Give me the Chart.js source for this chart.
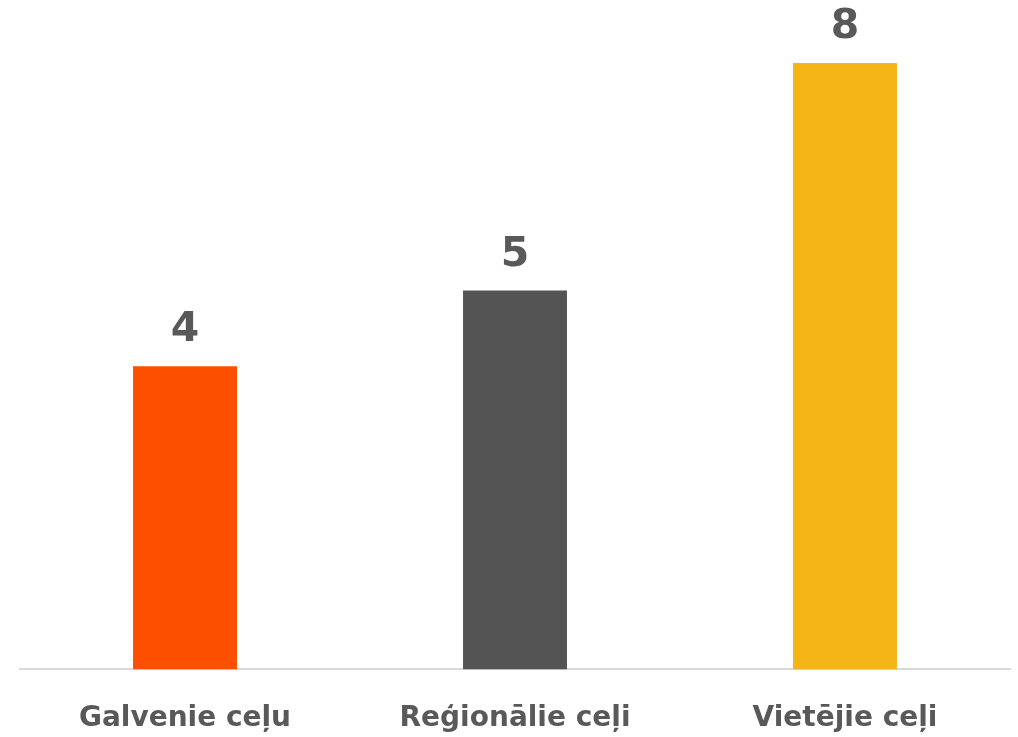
<!DOCTYPE html>
<html>
<head>
<meta charset="utf-8">
<script src="https://cdn.jsdelivr.net/npm/chart.js@4"></script>
<style>
  html, body { margin: 0; padding: 0; background: #ffffff; }
  #wrap { width: 1018px; height: 737px; }
</style>
</head>
<body>
<div id="wrap"><canvas id="roads"></canvas></div>
<script>
const categories = ["Galvenie ceļu", "Reģionālie ceļi", "Vietējie ceļi"];
const values = [4, 5, 8];
const barColors = ["#FC5000", "#545454", "#F5B516"];

const textColor = "#595959";
const fontFamily = "'DejaVu Sans', sans-serif";

// draws the number above each bar
const valueLabels = {
  id: "valueLabels",
  afterDatasetsDraw(chart) {
    const ctx = chart.ctx;
    const meta = chart.getDatasetMeta(0);
    ctx.save();
    ctx.font = "bold 41px " + fontFamily;
    ctx.fillStyle = textColor;
    ctx.textAlign = "center";
    ctx.textBaseline = "bottom";
    meta.data.forEach((bar, i) => {
      ctx.fillText(values[i], bar.x, bar.y - 15);
    });
    ctx.restore();
  }
};

new Chart(document.getElementById("roads"), {
  type: "bar",
  data: {
    labels: categories,
    datasets: [{
      data: values,
      backgroundColor: barColors,
      categoryPercentage: 1,
      barPercentage: 0.315
    }]
  },
  options: {
    responsive: true,
    maintainAspectRatio: false,
    animation: false,
    layout: { padding: { top: 63, left: 20, right: 8, bottom: -32 } },
    plugins: {
      legend: { display: false },
      tooltip: { enabled: false }
    },
    scales: {
      x: {
        grid: { display: false, drawTicks: false },
        border: { display: true, color: "#d9d9d9", width: 2 },
        ticks: {
          color: textColor,
          padding: 33,
          font: { family: fontFamily, size: 28, weight: "bold" }
        }
      },
      y: {
        display: false,
        min: 0,
        max: 8
      }
    }
  },
  plugins: [valueLabels]
});
</script>
</body>
</html>
